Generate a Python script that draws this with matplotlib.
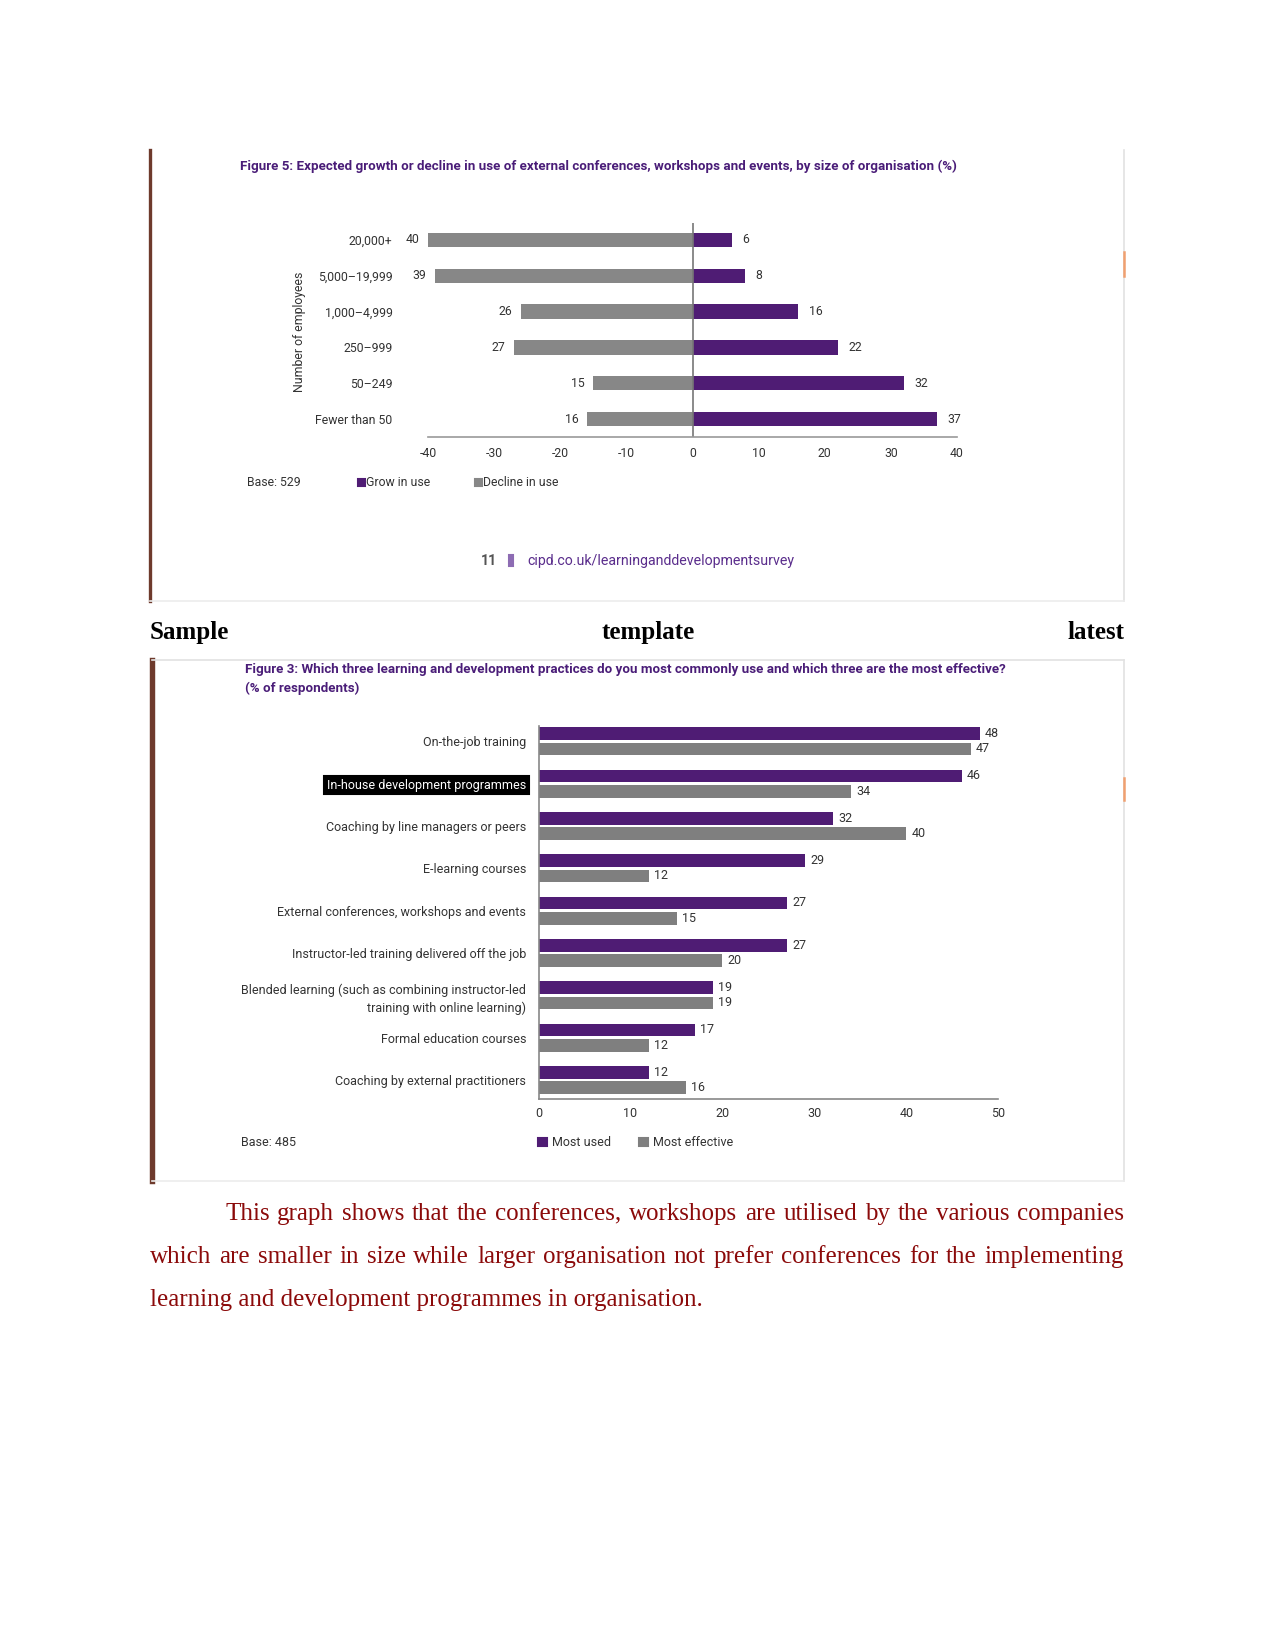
# two survey charts on a document page, with caption text
import matplotlib.pyplot as plt
from matplotlib.lines import Line2D
from matplotlib.patches import Rectangle

plt.rcParams['font.family'] = ['Roboto', 'DejaVu Sans']
plt.rcParams['axes.unicode_minus'] = False

# figure 5 data
sizes = ['20,000+', '5,000–19,999', '1,000–4,999', '250–999', '50–249', 'Fewer than 50']
grow = [6, 8, 16, 22, 32, 37]
decline = [40, 39, 26, 27, 15, 16]

# figure 3 data
practices = ['On-the-job training', 'In-house development programmes',
             'Coaching by line managers or peers', 'E-learning courses',
             'External conferences, workshops and events',
             'Instructor-led training delivered off the job',
             'Blended learning (such as combining instructor-led\ntraining with online learning)',
             'Formal education courses', 'Coaching by external practitioners']
most_used = [48, 46, 32, 29, 27, 27, 19, 17, 12]
most_effective = [47, 34, 40, 12, 15, 20, 19, 12, 16]

title5 = ('Figure 5: Expected growth or decline in use of external conferences, '
          'workshops and events, by size of organisation (%)')
title3 = ('Figure 3: Which three learning and development practices do you most '
          'commonly use and which three are the most effective?')

purple = '#4f1c74'
gray = '#878787'
title_col = '#4a1d78'
txt = '#333333'
W, H = 1275, 1650


def fx(x):
    return x / W


def fy(y):
    return 1 - y / H


fig = plt.figure(figsize=(8.5, 11), dpi=150)
renderer = fig.canvas.get_renderer()


def size_for(s, width, **kw):
    # font size that gives the text the width it has in the reference
    t = fig.text(0, 0, s, fontsize=10, **kw)
    w = t.get_window_extent(renderer).width
    t.remove()
    return 10 * width / w


fs1 = size_for('5,000–19,999', 75)
fs2 = size_for('External conferences, workshops and events', 248)
fs_t5 = size_for(title5, 719, fontweight='bold')
fs_t3 = size_for(title3, 762, fontweight='bold')
fs_url = size_for('cipd.co.uk/learninganddevelopmentsurvey', 267)

# ---- figure 5 ----
ax1 = fig.add_axes([fx(428), fy(437), (957 - 428) / W, (437 - 223) / H])
ypos = list(range(len(sizes)))
ax1.barh(ypos, grow, height=0.4, color=purple)
ax1.barh(ypos, [-d for d in decline], height=0.4, color=gray)
for y, g, d in zip(ypos, grow, decline):
    ax1.annotate(str(g), (g, y), xytext=(5, 0), textcoords='offset points',
                 va='center', ha='left', fontsize=fs1, color=txt)
    ax1.annotate(str(d), (-d, y), xytext=(-4, 0), textcoords='offset points',
                 va='center', ha='right', fontsize=fs1, color=txt)
ax1.axvline(0, color='#777777', lw=0.8)
ax1.set_xlim(-40, 40)
ax1.set_ylim(5.5, -0.47)
ax1.set_xticks(range(-40, 41, 10))
ax1.set_yticks(ypos)
ax1.set_yticklabels(sizes)
ax1.tick_params(axis='x', length=0, pad=5, labelsize=fs1, labelcolor=txt)
ax1.tick_params(axis='y', length=0, pad=17, labelsize=fs1, labelcolor=txt)
for s in ['top', 'right', 'left']:
    ax1.spines[s].set_visible(False)
ax1.spines['bottom'].set_color('#999999')
ax1.patch.set_alpha(0)

fig.text(fx(240), fy(166), title5, fontsize=fs_t5, fontweight='bold',
         color=title_col, va='center')
fig.text(fx(300), fy(332), 'Number of employees', rotation=90, fontsize=fs1,
         color=txt, va='center', ha='center')
fig.text(fx(247), fy(483), 'Base: 529', fontsize=fs1, color=txt, va='center')
fig.add_artist(Rectangle((fx(358), fy(486)), 6.5 / W, 7 / H, color=purple,
                         transform=fig.transFigure))
fig.text(fx(366), fy(482), 'Grow in use', fontsize=fs1, color=txt, va='center')
fig.add_artist(Rectangle((fx(475), fy(486)), 6.5 / W, 7 / H, color=gray,
                         transform=fig.transFigure))
fig.text(fx(483), fy(482), 'Decline in use', fontsize=fs1, color=txt, va='center')
fig.text(fx(481), fy(561), '11', fontsize=fs_url, fontweight='bold', color='#555555',
         va='center')
fig.add_artist(Rectangle((fx(509), fy(566)), 4 / W, 11 / H, color='#8d6cb3',
                         transform=fig.transFigure))
fig.text(fx(527), fy(561), 'cipd.co.uk/learninganddevelopmentsurvey', fontsize=fs_url,
         color='#5a2d8c', va='center')

# ---- figure 3 ----
ax2 = fig.add_axes([fx(538.6), fy(1099), (998.3 - 538.6) / W, (1099 - 726) / H])
gpos = list(range(len(practices)))
ax2.barh([g - 0.18 for g in gpos], most_used, height=0.3, color=purple)
ax2.barh([g + 0.18 for g in gpos], most_effective, height=0.3, color='#7f7f7f')
for g, u, e in zip(gpos, most_used, most_effective):
    ax2.annotate(str(u), (u, g - 0.18), xytext=(2.5, 0), textcoords='offset points',
                 va='center', ha='left', fontsize=fs2, color=txt)
    ax2.annotate(str(e), (e, g + 0.18), xytext=(2.5, 0), textcoords='offset points',
                 va='center', ha='left', fontsize=fs2, color=txt)
ax2.set_xlim(0, 50)
ax2.set_ylim(8.45, -0.36)
ax2.set_xticks(range(0, 51, 10))
ax2.set_yticks(gpos)
ax2.set_yticklabels(practices, linespacing=1.5)
ax2.tick_params(axis='x', length=0, pad=4, labelsize=fs2, labelcolor=txt)
ax2.tick_params(axis='y', length=0, pad=6, labelsize=fs2, labelcolor=txt)
for s in ['top', 'right']:
    ax2.spines[s].set_visible(False)
ax2.spines['bottom'].set_color('#888888')
ax2.spines['left'].set_color('#888888')
ax2.patch.set_alpha(0)
lab = ax2.get_yticklabels()[1]
lab.set_color('white')
lab.set_bbox(dict(facecolor='black', edgecolor='black', pad=1.2))

fig.text(fx(245), fy(670), title3, fontsize=fs_t3, fontweight='bold',
         color=title_col, va='center')
fig.text(fx(245), fy(688), '(% of respondents)', fontsize=fs_t3, fontweight='bold',
         color=title_col, va='center')
fig.text(fx(241), fy(1142), 'Base: 485', fontsize=fs2, color=txt, va='center')
fig.add_artist(Rectangle((fx(538), fy(1146)), 8.5 / W, 8.5 / H, color=purple,
                         transform=fig.transFigure))
fig.text(fx(552), fy(1142), 'Most used', fontsize=fs2, color=txt, va='center')
fig.add_artist(Rectangle((fx(639), fy(1146)), 8.5 / W, 8.5 / H, color='#7f7f7f',
                         transform=fig.transFigure))
fig.text(fx(653), fy(1142), 'Most effective', fontsize=fs2, color=txt, va='center')

# ---- frames round the two pictures ----
for (x0, x1, y0, y1, lw) in [(150, 1124, 150, 601, 1.6), (152, 1124, 660, 1181, 2.6)]:
    fig.add_artist(Line2D([fx(x0), fx(x0)], [fy(y0), fy(y1)], color='#6e3a2c', lw=lw))
    fig.add_artist(Line2D([fx(x1), fx(x1)], [fy(y0), fy(y1)], color='#e2e2e2', lw=0.8))
    fig.add_artist(Line2D([fx(x0), fx(x1)], [fy(y1), fy(y1)], color='#ececec', lw=0.8))
fig.add_artist(Line2D([fx(152), fx(1124)], [fy(660), fy(660)], color='#e2e2e2', lw=0.8))
fig.add_artist(Line2D([fx(1124), fx(1124)], [fy(252), fy(276)], color='#f0a070', lw=1.2))
fig.add_artist(Line2D([fx(1124), fx(1124)], [fy(778), fy(800)], color='#f0a070', lw=1.2))

# ---- document text ----


def justify(words, x0, x1, y, **kw):
    texts = [fig.text(0, fy(y), w, va='baseline', **kw) for w in words]
    widths = [t.get_window_extent(renderer).width for t in texts]
    gap = (x1 - x0 - sum(widths)) / (len(texts) - 1)
    x = x0
    for t, w in zip(texts, widths):
        t.set_x(fx(x))
        x += w + gap


serif = ['Liberation Serif', 'DejaVu Serif']
justify(['Sample', 'template', 'latest'], 150, 1124, 639,
        family=serif, fontsize=12, fontweight='bold', color='black')

red = '#8b0a0a'
justify('This graph shows that the conferences, workshops are utilised by the various companies'.split(),
        225, 1124, 1220, family=serif, fontsize=12, color=red)
justify('which are smaller in size while larger organisation not prefer conferences for the implementing'.split(),
        150, 1124, 1263, family=serif, fontsize=12, color=red)
fig.text(fx(150), fy(1306), 'learning and development programmes in organisation.',
         family=serif, fontsize=12, color=red, va='baseline')

fig.savefig('out.png', dpi=150)
